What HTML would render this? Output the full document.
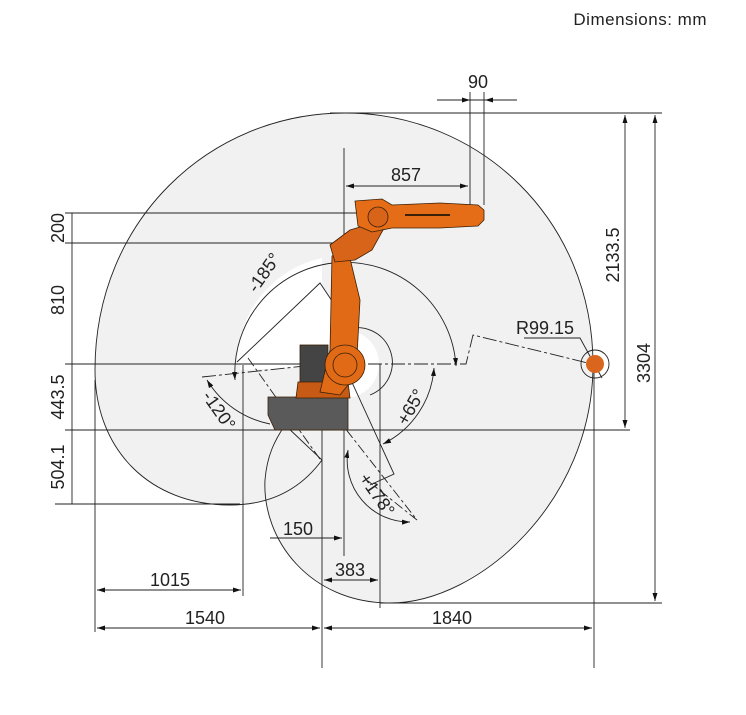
<!DOCTYPE html>
<html><head><meta charset="utf-8"><style>
html,body{margin:0;padding:0;background:#fff;}
svg{display:block;}
text{font-family:"Liberation Sans",sans-serif;fill:#222;}
</style></head><body>
<svg width="746" height="715" viewBox="0 0 746 715" xmlns="http://www.w3.org/2000/svg">
<defs>
<marker id="a" markerWidth="8" markerHeight="6" refX="8" refY="3" orient="auto-start-reverse" markerUnits="userSpaceOnUse"><path d="M0,0.5 L8,3 L0,5.5z" fill="#111"/></marker>
</defs>
<text x="707" y="25" font-size="17" text-anchor="end" letter-spacing="0.5">Dimensions: mm</text>

<path d="M322,460 C300,490 270,505 230,505 C150,505 95,450 95,370 C95,220 210,113 345,113 C480,113 593,220 593,365 C593,500 480,603 390,603 C310,603 262,540 265,480 C267,455 275,440 285,425 Z" fill="#f1f1f1" stroke="#222" stroke-width="0.9"/>
<path d="M240,370 C240,320 270,285 320,283 L358,336 L380,364 Z" fill="#fff"/>
<path d="M237,364 A108,108 0 0 1 322,258 L322,364Z" fill="#fff"/>
<circle cx="345" cy="364" r="34" fill="#fff"/>
<path d="M237,362 L320,283 L358,340" fill="none" stroke="#222" stroke-width="0.9"/>
<path d="M345,330 A34,34 0 0 1 370,395" fill="none" stroke="#222" stroke-width="0.9"/>

<g stroke="#222" stroke-width="0.9" fill="none">
<line x1="65" y1="213" x2="358" y2="213"/>
<line x1="65" y1="243" x2="335" y2="243"/>
<line x1="65" y1="364" x2="310" y2="364"/>
<line x1="65" y1="430" x2="630" y2="430"/>
<line x1="55" y1="504" x2="240" y2="504"/>
<line x1="330" y1="113" x2="662" y2="113"/>
<line x1="380" y1="603" x2="662" y2="603"/>
<line x1="72" y1="213" x2="72" y2="504"/>
<g stroke-width="0.9"><line x1="68" y1="243" x2="76" y2="243"/><line x1="68" y1="364" x2="76" y2="364"/><line x1="68" y1="430" x2="76" y2="430"/></g>
<line x1="625" y1="115" x2="625" y2="428" marker-start="url(#a)" marker-end="url(#a)"/>
<line x1="655" y1="115" x2="655" y2="601" marker-start="url(#a)" marker-end="url(#a)"/>
<line x1="437" y1="100" x2="517" y2="100"/>
<line x1="455" y1="100" x2="470" y2="100" marker-end="url(#a)"/>
<line x1="500" y1="100" x2="485" y2="100" marker-end="url(#a)"/>
<line x1="470" y1="92" x2="470" y2="212"/>
<line x1="484" y1="92" x2="484" y2="205"/>
<line x1="344" y1="148" x2="344" y2="556"/>
<line x1="346" y1="186" x2="468" y2="186" marker-start="url(#a)" marker-end="url(#a)"/>
<line x1="95" y1="380" x2="95" y2="632"/>
<line x1="243" y1="365" x2="243" y2="596"/>
<line x1="322" y1="400" x2="322" y2="668"/>
<line x1="380" y1="364" x2="380" y2="608"/>
<line x1="594" y1="370" x2="594" y2="668"/>
<line x1="270" y1="538" x2="342" y2="538" marker-end="url(#a)"/>
<line x1="324" y1="580" x2="378" y2="580" marker-start="url(#a)" marker-end="url(#a)"/>
<line x1="97" y1="590" x2="241" y2="590" marker-start="url(#a)" marker-end="url(#a)"/>
<line x1="97" y1="628" x2="320" y2="628" marker-start="url(#a)" marker-end="url(#a)"/>
<line x1="324" y1="628" x2="592" y2="628" marker-start="url(#a)" marker-end="url(#a)"/>
<path d="M345,364 L466,364 L473,335 L592,364" stroke-dasharray="14,3,3,3"/>
<path d="M248,358 L322,462" stroke-dasharray="10,3,3,3"/>
<path d="M202,377 L305,366" stroke-dasharray="14,3,3,3"/>
<path d="M323,400 L417,520 L368,481" stroke-dasharray="10,3,3,3"/>
<path d="M350,378 L394,474 L370,485"/>
<path d="M235,380 A110,110 0 0 1 456,366" marker-start="url(#a)" marker-end="url(#a)"/>
<path d="M207,380 A95,95 0 0 0 270,424" marker-start="url(#a)"/>
<path d="M434,368 A92,92 0 0 1 383,444" marker-start="url(#a)" marker-end="url(#a)"/>
<path d="M348,450 A62,62 0 0 0 410,522" marker-start="url(#a)" marker-end="url(#a)"/>
<path d="M524,338 L580,338 L602,378"/>
<circle cx="595" cy="364" r="14"/>
</g>
<circle cx="595" cy="364" r="9" fill="#d9661c"/>

<g stroke="#3a2006" stroke-width="0.8">
<rect x="300" y="345" width="28" height="50" fill="#444"/>
<path d="M268,397 L348,397 L348,430 L275,430 L268,415 Z" fill="#5a5a5a"/>
<path d="M298,382 L348,382 L350,398 L296,398 Z" fill="#c75a14"/>
<path d="M332,256 L348,250 L360,300 L356,375 L340,395 L320,392 L330,350 Z" fill="#e06a16"/>
<circle cx="345" cy="365" r="20" fill="#e06a16"/>
<circle cx="345" cy="365" r="12" fill="none"/>
<path d="M330,245 L350,230 L370,224 L383,230 L372,250 L355,260 L335,262 Z" fill="#d8641a"/>
<path d="M355,201 L382,199 L392,205 L440,203 L478,205 L484,210 L484,220 L478,226 L440,228 L392,228 L372,232 L358,226 Z" fill="#e56d18"/>
<circle cx="378" cy="217" r="10" fill="#d8641a"/>
<line x1="405" y1="215" x2="450" y2="215" stroke-width="2"/>
</g>

<g font-size="18" text-anchor="middle">
<text x="478" y="88">90</text>
<text x="406" y="181">857</text>
<text x="545" y="334">R99.15</text>
<text x="298" y="535">150</text>
<text x="350" y="576">383</text>
<text x="170" y="586">1015</text>
<text x="205" y="624">1540</text>
<text x="452" y="624">1840</text>
<text transform="translate(64,228) rotate(-90)">200</text>
<text transform="translate(64,300) rotate(-90)">810</text>
<text transform="translate(64,397) rotate(-90)">443.5</text>
<text transform="translate(64,467) rotate(-90)">504.1</text>
<text transform="translate(619,255) rotate(-90)">2133.5</text>
<text transform="translate(650,363) rotate(-90)">3304</text>
<text transform="translate(269,276) rotate(-55)">-185°</text>
<text transform="translate(214,414) rotate(55)">-120°</text>
<text transform="translate(416,410) rotate(-60)">+65°</text>
<text transform="translate(372,498) rotate(55)">+178°</text>
</g>
</svg>
</body></html>
